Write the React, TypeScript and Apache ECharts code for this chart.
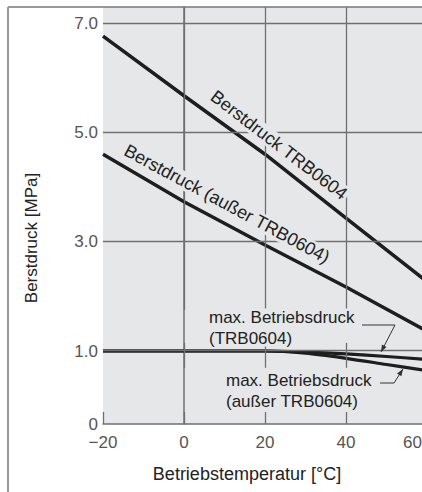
import React, { useEffect, useRef } from "react";
import * as echarts from "echarts";

// ---- data (real units) ----
const burstTemps = [-20, 0, 20, 40, 60];
const burstTRB = [6.76, 5.67, 4.6, 3.43, 2.27];
const burstOther = [4.6, 3.73, 2.94, 2.17, 1.36];

const opTemps = [-20, 0, 20, 30, 40, 50, 60];
const opTRB = [1.0, 1.0, 1.0, 0.985, 0.96, 0.925, 0.885];
const opOther = [1.0, 1.0, 1.0, 0.97, 0.9, 0.815, 0.73];

const xTicks = [-20, 0, 20, 40, 60];
const yTicks = [0, 1, 3, 5, 7];
const yTickLabels = ["0", "1.0", "3.0", "5.0", "7.0"];

// broken y scale: segment 0..1 is stretched
const K = 73 / 54.67;
const T = (v: number) => (v <= 1 ? v * K : K + (v - 1));
const Y_MAX = T(7) + 0.293;

const BG = "#e6e7e8";
const GRID = "#707070";
const INK = "#1e1e1e";
const FONT = '"Liberation Sans", Arial, sans-serif';

function arrow(tip: [number, number], from: [number, number], len = 7, half = 2.6) {
  const dx = tip[0] - from[0];
  const dy = tip[1] - from[1];
  const d = Math.hypot(dx, dy);
  const ux = dx / d, uy = dy / d;
  const bx = tip[0] - ux * len, by = tip[1] - uy * len;
  return [
    [tip[0], tip[1]],
    [bx + uy * half, by - ux * half],
    [bx - uy * half, by + ux * half],
  ];
}

function txt(x: number, y: number, text: string, opts: any = {}) {
  const align = opts.align || "center";
  return {
    type: "text",
    x,
    y,
    rotation: opts.rotation || 0,
    z: 100,
    style: {
      text,
      font: `${opts.size || 17}px ${FONT}`,
      fill: opts.fill || "#222",
      textAlign: align,
      align,
      textVerticalAlign: "middle",
      verticalAlign: "middle",
      backgroundColor: opts.bg,
      padding: opts.bg ? [0, 2, 0, 2] : 0,
    },
  };
}

export default function App() {
  const ref = useRef<HTMLDivElement>(null);
  useEffect(() => {
    if (!ref.current) return;
    const chart = echarts.init(ref.current, undefined, { renderer: "svg" });
    const mk = (xs: number[], ys: number[]) => xs.map((x, i) => [x, T(ys[i])]);
    const vSeg = (x: number, a: number, b: number) => [
      { coord: [x, a] },
      { coord: [x, b] },
    ];
    const leader1: number[][] = [[362, 325], [395, 325], [381, 352]];
    const leader2: number[][] = [[380, 383], [394, 383], [403, 369]];
    chart.setOption({
      animation: false,
      grid: {
        left: 103,
        width: 324,
        top: 7,
        bottom: 68,
        containLabel: false,
        outerBoundsMode: "none",
        show: true,
        backgroundColor: BG,
        borderWidth: 0,
      },
      xAxis: {
        type: "value",
        min: -20,
        max: 60,
        interval: 20,
        splitLine: { show: false },
        axisLine: { show: true, lineStyle: { color: GRID, width: 1.5 } },
        axisTick: { show: true, inside: true, length: 12, lineStyle: { color: GRID, width: 1.3 } },
        axisLabel: {
          color: "#555",
          fontSize: 17,
          fontFamily: FONT,
          margin: 10,
          alignMaxLabel: "right",
          showMaxLabel: true,
          rich: {
            r: { fontSize: 17, fontFamily: FONT, color: "#555", padding: [0, 5, 0, 0] },
          },
          formatter: (v: number) =>
            xTicks.indexOf(v) < 0
              ? ""
              : v < 0
              ? "\u2212" + Math.abs(v)
              : v === 60
              ? "{r|60}"
              : String(v),
        },
      },
      yAxis: {
        type: "value",
        min: 0,
        max: Y_MAX,
        splitLine: { show: false },
        axisLine: { show: true, lineStyle: { color: GRID, width: 1.5 } },
        axisTick: { show: false },
        axisLabel: {
          color: "#555",
          fontSize: 17,
          fontFamily: FONT,
          margin: 5,
          customValues: yTicks.map(T),
          formatter: (v: number) => {
            let best = 0;
            yTicks.forEach((t, i) => {
              if (Math.abs(T(t) - v) < Math.abs(T(yTicks[best]) - v)) best = i;
            });
            return yTickLabels[best];
          },
        },
      },
      series: [
        {
          type: "line",
          data: [],
          z: 1,
          silent: true,
          markLine: {
            silent: true,
            symbol: ["none", "none"],
            label: { show: false },
            lineStyle: { color: GRID, width: 1.3, type: "solid" },
            data: [
              ...yTicks.filter((t) => t > 0).map((t) => ({ yAxis: T(t) })),
              ...[0, 20, 40].flatMap((x) => [vSeg(x, T(1.75), Y_MAX), vSeg(x, T(0.77), T(1.15))]),
            ],
          },
        },
        {
          name: "Berstdruck TRB0604",
          type: "line",
          data: mk(burstTemps, burstTRB),
          symbol: "none",
          z: 3,
          lineStyle: { color: INK, width: 3.5 },
        },
        {
          name: "Berstdruck (außer TRB0604)",
          type: "line",
          data: mk(burstTemps, burstOther),
          symbol: "none",
          z: 3,
          lineStyle: { color: INK, width: 3.5 },
        },
        {
          name: "max. Betriebsdruck (TRB0604)",
          type: "line",
          data: mk(opTemps, opTRB),
          symbol: "none",
          smooth: 0.3,
          z: 3,
          lineStyle: { color: INK, width: 3.2 },
        },
        {
          name: "max. Betriebsdruck (außer TRB0604)",
          type: "line",
          data: mk(opTemps, opOther),
          symbol: "none",
          smooth: 0.3,
          z: 3,
          lineStyle: { color: INK, width: 3.2 },
        },
      ],
      graphic: [
        { type: "line", z: 100, shape: { x1: 8, y1: 7, x2: 422, y2: 7 }, style: { stroke: "#777", lineWidth: 1.5 } },
        { type: "line", z: 100, shape: { x1: 8, y1: 7, x2: 8, y2: 492 }, style: { stroke: "#999", lineWidth: 2 } },
        txt(279, 145, "Berstdruck TRB0604", { rotation: (37.5 * Math.PI) / 180 * -1, bg: BG, size: 18 }),
        txt(227, 204, "Berstdruck (außer TRB0604)", { rotation: (28.3 * Math.PI) / 180 * -1, bg: BG, size: 18 }),
        txt(207, 317, "max. Betriebsdruck", { align: "left", bg: BG }),
        txt(207, 338, "(TRB0604)", { align: "left", bg: BG }),
        txt(224, 380, "max. Betriebsdruck", { align: "left", bg: BG }),
        txt(224, 401, "(außer TRB0604)", { align: "left", bg: BG }),
        { type: "polyline", z: 100, shape: { points: leader1 }, style: { stroke: "#333", lineWidth: 1, fill: "none" } },
        { type: "polygon", z: 100, shape: { points: arrow(leader1[2] as any, leader1[1] as any) }, style: { fill: "#333" } },
        { type: "polyline", z: 100, shape: { points: leader2 }, style: { stroke: "#333", lineWidth: 1, fill: "none" } },
        { type: "polygon", z: 100, shape: { points: arrow(leader2[2] as any, leader2[1] as any) }, style: { fill: "#333" } },
        txt(31, 238, "Berstdruck [MPa]", { rotation: Math.PI / 2, size: 17 }),
        txt(247, 474, "Betriebstemperatur [°C]", { size: 18 }),
      ],
    });
    return () => chart.dispose();
  }, []);
  return (
    <div
      ref={ref}
      style={{ position: "absolute", left: 0, top: 0, width: 422, height: 492, background: "#fff" }}
    />
  );
}
